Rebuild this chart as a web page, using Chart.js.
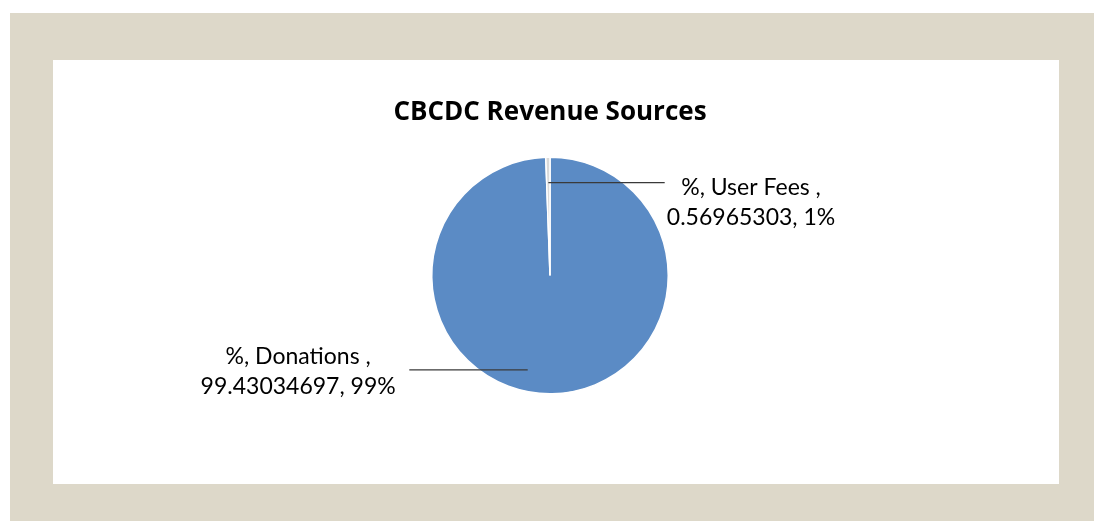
<!DOCTYPE html>
<html>
<head>
<meta charset="utf-8">
<script src="https://cdn.jsdelivr.net/npm/chart.js@4/dist/chart.umd.min.js"></script>
<style>
  html, body { margin: 0; padding: 0; background: #fff; }
  #wrap { width: 1094px; height: 521px; position: relative; }
</style>
</head>
<body>
<div id="wrap"><canvas id="canvas" width="1094" height="521"></canvas></div>
<script>
// data
var categories = ['Donations', 'User Fees'];
var values = [99.43034697, 0.56965303];
var pctLabels = ['99%', '1%'];
var seriesName = '%';

var sliceColors = ['#5b8bc5', '#d9d9d9'];
var labelFont = '23px Lato, "Open Sans", sans-serif';

// page frame: beige border + white panel
var framePlugin = {
  id: 'frame',
  beforeDraw: function(chart) {
    var c = chart.ctx;
    c.save();
    c.fillStyle = '#fff';
    c.fillRect(0, 0, chart.width, chart.height);
    c.fillStyle = '#ddd8c9';
    c.fillRect(10, 13, chart.width - 10, chart.height - 13);
    c.fillStyle = '#fff';
    c.fillRect(53, 60, 1006, 424);
    c.restore();
  }
};

// excel style data labels with leader lines
var labelPlugin = {
  id: 'pieLabels',
  afterDatasetsDraw: function(chart) {
    var c = chart.ctx;
    var meta = chart.getDatasetMeta(0);
    // placement relative to the pie radius
    var place = [
      { shift: 0.25, rf: 0.82, lineTo: -1.19, textX: -2.13, textY: 0.81 },
      { shift: 0, rf: 0.785, lineTo: 0.97, textX: 1.70, textY: -0.62 }
    ];
    c.save();
    for (var i = 0; i < meta.data.length; i++) {
      var arc = meta.data[i];
      var p = place[i];
      var r = arc.outerRadius;
      var mid = (arc.startAngle + arc.endAngle) / 2 + p.shift;
      var ax = arc.x + Math.cos(mid) * r * p.rf;
      var ay = arc.y + Math.sin(mid) * r * p.rf;
      c.strokeStyle = '#3a3a3a';
      c.lineWidth = 1.3;
      c.beginPath();
      c.moveTo(ax, ay);
      c.lineTo(arc.x + p.lineTo * r, ay);
      c.stroke();

      c.fillStyle = '#000';
      c.font = labelFont;
      c.textAlign = 'center';
      c.textBaseline = 'middle';
      var tx = arc.x + p.textX * r;
      var ty = arc.y + p.textY * r;
      c.fillText(seriesName + ', ' + categories[i] + ' ,', tx, ty - 15);
      c.fillText(values[i] + ', ' + pctLabels[i], tx, ty + 15);
    }
    c.restore();
  }
};

var ctx = canvas.getContext('2d');
var config = {
  type: 'pie',
  data: {
    labels: categories,
    datasets: [{
      label: seriesName,
      data: values,
      backgroundColor: sliceColors,
      borderColor: '#fff',
      borderWidth: 1.5
    }]
  },
  options: {
    responsive: false,
    animation: false,
    layout: { padding: { top: 96.5, bottom: 126.5, left: 300, right: 294 } },
    plugins: {
      legend: { display: false },
      tooltip: { enabled: false },
      title: {
        display: true,
        text: 'CBCDC Revenue Sources',
        color: '#000',
        font: { family: '"Open Sans", Lato, sans-serif', size: 26, weight: 'bold', lineHeight: 1.2 },
        padding: { top: 0, bottom: 28.8 }
      }
    }
  },
  plugins: [framePlugin, labelPlugin]
};

var chart = new Chart(ctx, config);
</script>
</body>
</html>
